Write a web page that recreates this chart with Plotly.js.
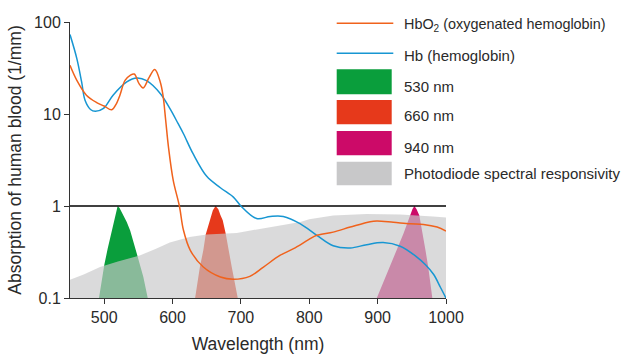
<!DOCTYPE html>
<html>
<head>
<meta charset="utf-8">
<script src="https://cdn.plot.ly/plotly-3.0.1.min.js"></script>
<style>html,body{margin:0;padding:0;background:#fff}#chart{width:628px;height:360px}</style>
</head>
<body>
<div id="chart"></div>
<script>
// ---- data ----
const hbWavelength   = [450, 460, 467, 472, 480, 487, 499, 513, 533, 548, 562, 582, 596, 608, 616, 630, 650, 670, 689, 700, 723, 743, 762, 787, 811, 835, 860, 884, 908, 933, 957, 970, 982, 992, 1000];
const hbAbsorption   = [73, 40, 22.3, 14.1, 11.2, 10.7, 11.5, 16, 22.3, 24.6, 23, 16.7, 11.5, 7.9, 6.1, 3.7, 2.1, 1.58, 1.25, 1.0, 0.73, 0.77, 0.77, 0.64, 0.48, 0.37, 0.35, 0.38, 0.40, 0.365, 0.28, 0.23, 0.18, 0.13, 0.1];

const hbo2Wavelength = [450, 460, 474, 489, 500, 511, 518, 523, 530.5, 538, 544, 551, 557, 566, 574, 582, 586, 590, 594, 601, 610, 616, 626, 645, 670, 689, 713, 733, 757, 777, 799, 811, 835, 860, 889, 899, 923, 948, 967, 987, 1000];
const hbo2Absorption = [33.8, 23.2, 16, 13.3, 12.2, 11.1, 13, 16, 23.2, 26.3, 27.2, 21.4, 19.2, 25.2, 30.4, 22.3, 16, 8.5, 4.4, 1.9, 1.0, 0.545, 0.33, 0.217, 0.169, 0.16, 0.172, 0.217, 0.29, 0.344, 0.43, 0.48, 0.52, 0.59, 0.676, 0.687, 0.665, 0.64, 0.63, 0.59, 0.535];

const pdWavelength   = [450, 470, 494, 520, 552, 575, 596, 625, 650, 694, 720, 743, 767, 787, 800, 835, 884, 933, 981, 1000];
const pdResponse     = [0.158, 0.18, 0.217, 0.25, 0.29, 0.34, 0.40, 0.46, 0.49, 0.51, 0.55, 0.59, 0.64, 0.67, 0.72, 0.79, 0.82, 0.81, 0.77, 0.75];

const led530Wavelength = [492.4, 496, 500.2, 505, 510, 514.4, 517, 519.7, 522.5, 526, 530, 533, 538, 542.6, 548.5, 553, 557.3, 563.7];
const led530Level      = [0.1, 0.15, 0.23, 0.34, 0.5, 0.72, 0.88, 1.0, 0.95, 0.85, 0.75, 0.67, 0.54, 0.42, 0.29, 0.22, 0.169, 0.1];
const led660Wavelength = [633, 640, 645, 648.5, 652, 654.8, 659, 663, 667, 670, 673.4, 677.8, 682, 686.6, 695.4];
const led660Level      = [0.1, 0.217, 0.33, 0.49, 0.6, 0.70, 0.9, 1.0, 0.92, 0.8, 0.70, 0.5, 0.33, 0.217, 0.1];
const led940Wavelength = [898.8, 907.6, 918, 928, 937.7, 947.5, 951, 953.8, 957, 961, 966, 970, 974, 980];
const led940Level      = [0.1, 0.144, 0.217, 0.33, 0.5, 0.79, 0.93, 1.0, 0.92, 0.79, 0.5, 0.33, 0.217, 0.1];

const referenceLevel = [1, 1];
const referenceRange = [450, 1000];

const xTicks = [500, 600, 700, 800, 900, 1000];
const yTicks = [0.1, 1, 10, 100];
const yTickText = ['0.1', '1', '10', '100'];

const legendLabels = ['HbO<sub>2</sub> (oxygenated hemoglobin)', 'Hb (hemoglobin)', '530 nm', '660 nm', '940 nm', 'Photodiode spectral responsivity'];

// ---- styles ----
const C_ORANGE = '#f0621c', C_BLUE = '#1796d2';
const C_GREEN = '#0a9e3c', C_RED = '#e6391b', C_MAG = '#cc0a68', C_GRAY = '#c8c8c9';
const FONT = 'Liberation Sans, Arial, Helvetica, sans-serif';

const traces = [
  {x: led530Wavelength, y: led530Level, mode: 'lines', fill: 'toself', fillcolor: C_GREEN, line: {width: 0, color: C_GREEN}, name: legendLabels[2], showlegend: false, hoverinfo: 'skip'},
  {x: led660Wavelength, y: led660Level, mode: 'lines', fill: 'toself', fillcolor: C_RED, line: {width: 0, color: C_RED}, name: legendLabels[3], showlegend: false, hoverinfo: 'skip'},
  {x: led940Wavelength, y: led940Level, mode: 'lines', fill: 'toself', fillcolor: C_MAG, line: {width: 0, color: C_MAG}, name: legendLabels[4], showlegend: false, hoverinfo: 'skip'},
  {x: [pdWavelength[0]].concat(pdWavelength, [pdWavelength[pdWavelength.length-1]]),
   y: [0.1].concat(pdResponse, [0.1]), mode: 'lines', fill: 'toself', fillcolor: 'rgba(200,200,201,0.67)', line: {width: 0, color: 'rgba(0,0,0,0)'}, name: legendLabels[5], showlegend: false, hoverinfo: 'skip'},
  {x: referenceRange, y: referenceLevel, mode: 'lines', line: {color: '#000', width: 1.3}, showlegend: false, hoverinfo: 'skip'},
  {x: hbWavelength, y: hbAbsorption, mode: 'lines', line: {color: C_BLUE, width: 1.5, shape: 'spline', smoothing: 1}, name: legendLabels[1], showlegend: false},
  {x: hbo2Wavelength, y: hbo2Absorption, mode: 'lines', line: {color: C_ORANGE, width: 1.5, shape: 'spline', smoothing: 1}, name: 'HbO2', showlegend: false}
];

// legend drawn with paper-referenced shapes/annotations (pixel helpers)
const PL = 70, PR = 446, PT = 22, PB = 298;
const px = v => (v - PL) / (PR - PL);
const py = v => (PB - v) / (PB - PT);

const shapes = [
  {type: 'line', xref: 'paper', yref: 'paper', x0: px(336.7), x1: px(393.3), y0: py(23.3), y1: py(23.3), line: {color: C_ORANGE, width: 1.5}},
  {type: 'line', xref: 'paper', yref: 'paper', x0: px(336.7), x1: px(393.3), y0: py(53.3), y1: py(53.3), line: {color: C_BLUE, width: 1.5}},
  {type: 'rect', xref: 'paper', yref: 'paper', x0: px(336.7), x1: px(391.7), y0: py(94.3), y1: py(69.3), fillcolor: C_GREEN, line: {width: 0}},
  {type: 'rect', xref: 'paper', yref: 'paper', x0: px(336.7), x1: px(391.7), y0: py(124.3), y1: py(100), fillcolor: C_RED, line: {width: 0}},
  {type: 'rect', xref: 'paper', yref: 'paper', x0: px(336.7), x1: px(391.7), y0: py(155.3), y1: py(131), fillcolor: C_MAG, line: {width: 0}},
  {type: 'rect', xref: 'paper', yref: 'paper', x0: px(336.7), x1: px(391.7), y0: py(185.3), y1: py(161.7), fillcolor: C_GRAY, line: {width: 0}}
];
const legendY = [25.5, 55.5, 86, 115.5, 147.5, 173.5];
const legendSize = [14.4, 15, 15, 15, 15, 15];
const annotations = legendLabels.map((t, i) => ({
  text: t, xref: 'paper', yref: 'paper', x: px(402), y: py(legendY[i]), xanchor: 'left', yanchor: 'middle',
  showarrow: false, font: {family: FONT, size: legendSize[i], color: '#2a2a2a'}
}));

const layout = {
  width: 628, height: 360,
  margin: {l: PL, r: 628 - PR, t: PT, b: 360 - PB, pad: 0},
  paper_bgcolor: '#fff', plot_bgcolor: '#fff',
  showlegend: false,
  font: {family: FONT, color: '#2a2a2a'},
  xaxis: {
    range: [450, 1000], tickvals: xTicks, ticks: 'outside', ticklen: 5, tickcolor: '#333', tickwidth: 1,
    showline: true, linecolor: '#333', linewidth: 1, showgrid: false, zeroline: false,
    tickfont: {size: 16, color: '#2a2a2a', family: FONT},
    title: {text: 'Wavelength (nm)', font: {size: 17.5, color: '#2a2a2a', family: FONT}, standoff: 12}
  },
  yaxis: {
    type: 'log', range: [-1, 2], tickvals: yTicks, ticktext: yTickText, ticks: 'outside', ticklen: 5, tickcolor: '#333', tickwidth: 1,
    showline: true, linecolor: '#333', linewidth: 1, showgrid: false, zeroline: false,
    tickfont: {size: 16, color: '#2a2a2a', family: FONT},
    title: {text: 'Absorption of human blood (1/mm)', font: {size: 17.5, color: '#2a2a2a', family: FONT}, standoff: 7}
  },
  shapes: shapes,
  annotations: annotations
};

Plotly.newPlot('chart', traces, layout, {displayModeBar: false, staticPlot: true});
</script>
</body>
</html>
